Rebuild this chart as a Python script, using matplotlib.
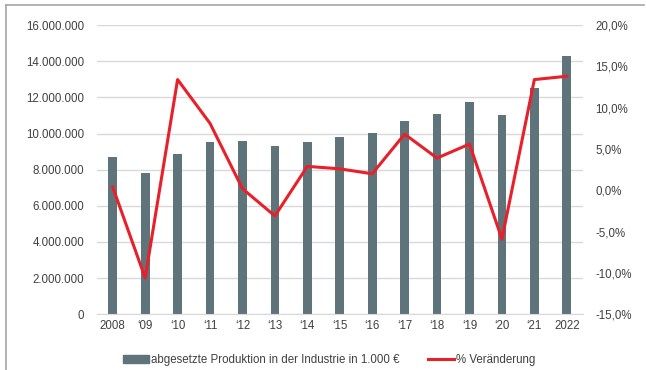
import numpy as np
import matplotlib.pyplot as plt
from matplotlib.lines import Line2D
from matplotlib.patches import Patch
from matplotlib.ticker import FuncFormatter

plt.rcParams['font.family'] = ['Liberation Sans', 'DejaVu Sans']

# data
years = ['2008', '\u201809', '\u201810', '\u201811', '\u201812', '\u201813', '\u201814',
         '\u201815', '\u201816', '\u201817', '\u201818', '\u201819', '\u201820', '\u201821', '2022']
production = [8720000, 7800000, 8850000, 9550000, 9600000, 9290000, 9550000, 9810000,
              10010000, 10690000, 11100000, 11730000, 11040000, 12520000, 14270000]
change_pct = [0.4, -10.6, 13.4, 8.1, 0.2, -3.1, 2.9, 2.6, 2.0, 6.8, 3.9, 5.6, -5.9, 13.4, 13.8]

bar_color = '#5f737b'
line_color = '#e8202a'
text_color = '#404040'
fs = 8.3

fig = plt.figure(figsize=(6.46, 3.70), dpi=100)
ax = fig.add_axes([0.1494, 0.1505, 0.7531, 0.7819])
x = np.arange(len(years))

ax.bar(x, production, width=0.27, color=bar_color, zorder=2)
ax.set_ylim(0, 16000000)
ax.set_yticks(np.arange(0, 16000001, 2000000))
ax.yaxis.set_major_formatter(FuncFormatter(lambda v, p: f'{int(v):,}'.replace(',', '.')))
ax.set_xlim(-0.5, len(years) - 0.5)
ax.set_xticks(x)
ax.set_xticklabels(years)
ax.grid(axis='y', color='#d9d9d9', linewidth=1, zorder=0)
for s in ax.spines.values():
    s.set_visible(False)
ax.spines['bottom'].set_visible(True)
ax.spines['bottom'].set_color('#d9d9d9')
ax.tick_params(length=0, labelsize=fs, colors=text_color)
ax.tick_params(axis='y', pad=9)
ax.tick_params(axis='x', pad=4)

# percentage change on secondary axis
ax2 = ax.twinx()
ax2.plot(x, change_pct, color=line_color, linewidth=2.2, zorder=3)
ax2.set_ylim(-15, 20)
ax2.set_yticks(np.arange(-15, 21, 5))
ax2.yaxis.set_major_formatter(FuncFormatter(lambda v, p: f'{v:.1f}%'.replace('.', ',')))
for s in ax2.spines.values():
    s.set_visible(False)
ax2.tick_params(length=0, labelsize=fs, colors=text_color, pad=9)

handles = [Patch(color=bar_color), Line2D([0], [0], color=line_color, linewidth=2.2)]
labels = ['abgesetzte Produktion in der Industrie in 1.000 \u20ac', '% Ver\u00e4nderung']
fig.legend(handles, labels, loc='center', bbox_to_anchor=(0.51, 0.027), ncol=2, frameon=False,
           fontsize=fs, labelcolor=text_color, handlelength=2.2, handleheight=0.6,
           handletextpad=0.2, columnspacing=2.5)

# outer frame
fig.add_artist(Line2D([6 / 646, 6 / 646], [0, 1 - 5 / 370], color='#a6a6a6', linewidth=1.2))
fig.add_artist(Line2D([6 / 646, 644 / 646], [1 - 5 / 370, 1 - 5 / 370], color='#a6a6a6', linewidth=1.2))

fig.savefig('out.png', dpi=100)
